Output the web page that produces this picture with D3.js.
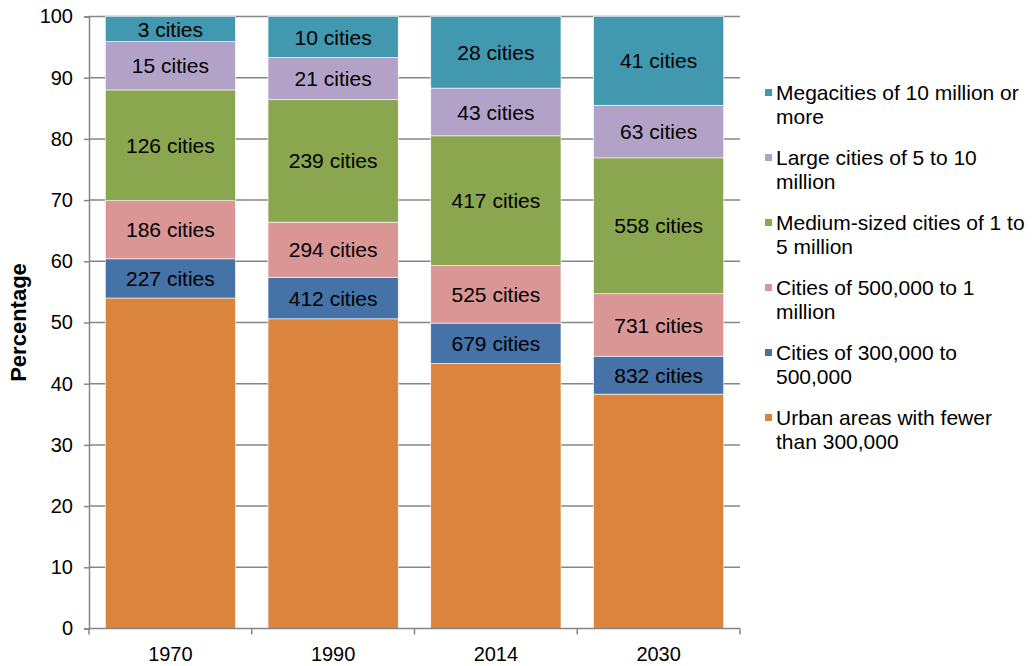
<!DOCTYPE html>
<html>
<head>
<meta charset="utf-8">
<script src="https://cdn.jsdelivr.net/npm/d3@7"></script>
<style>
  body { margin: 0; background: #fff; }
  text { font-family: "Liberation Sans", Arial, sans-serif; fill: #000; }
</style>
</head>
<body>
<div id="chart"></div>
<script>
// categories
const years = ["1970", "1990", "2014", "2030"];

// series, bottom to top (percent of urban population)
const seriesKeys = ["under300k", "k300to500k", "k500kto1m", "medium", "large", "mega"];
const under300k = [54.0, 50.6, 43.3, 38.3];
const k300to500k = [6.4, 6.8, 6.6, 6.2];
const k500kto1m = [9.5, 9.0, 9.4, 10.2];
const medium = [18.1, 20.0, 21.2, 22.2];
const large = [7.9, 6.9, 7.8, 8.6];
const mega = [4.1, 6.7, 11.7, 14.5];

// number of cities shown in each segment (null = no label)
const citiesUnder300k = [null, null, null, null];
const cities300to500k = [227, 412, 679, 832];
const cities500kto1m = [186, 294, 525, 731];
const citiesMedium = [126, 239, 417, 558];
const citiesLarge = [15, 21, 43, 63];
const citiesMega = [3, 10, 28, 41];

// legend labels, top to bottom, already wrapped
const legendLines = [
  ["Megacities of 10 million or", "more"],
  ["Large cities of 5 to 10", "million"],
  ["Medium-sized cities of 1 to", "5 million"],
  ["Cities of 500,000 to 1", "million"],
  ["Cities of 300,000 to", "500,000"],
  ["Urban areas with fewer", "than 300,000"]
];
const legendKeys = ["mega", "large", "medium", "k500kto1m", "k300to500k", "under300k"];

const yTicks = [0, 10, 20, 30, 40, 50, 60, 70, 80, 90, 100];

const colors = {
  under300k: "#DB843D",
  k300to500k: "#4572A7",
  k500kto1m: "#D99694",
  medium: "#8AA64E",
  large: "#B3A2C7",
  mega: "#4198AF"
};

const values = { under300k, k300to500k, k500kto1m, medium, large, mega };
const counts = {
  under300k: citiesUnder300k, k300to500k: cities300to500k, k500kto1m: cities500kto1m,
  medium: citiesMedium, large: citiesLarge, mega: citiesMega
};

const svgWidth = 1032;
const svgHeight = 666;
const margin = { top: 16.5, right: 292, bottom: 37.5, left: 89 };
const width = svgWidth - margin.left - margin.right;
const height = svgHeight - margin.top - margin.bottom;

const svg = d3.select("#chart")
  .append("svg")
  .attr("width", svgWidth)
  .attr("height", svgHeight);

const chartGroup = svg.append("g")
  .attr("transform", `translate(${margin.left}, ${margin.top})`);

// table for d3.stack
const table = years.map((y, i) => {
  const row = { year: y };
  seriesKeys.forEach(k => { row[k] = values[k][i]; });
  return row;
});

const stacked = d3.stack().keys(seriesKeys)(table);

const xScale = d3.scaleBand()
  .domain(years)
  .range([0, width])
  .paddingInner(0.2)
  .paddingOuter(0.1);

const yScale = d3.scaleLinear()
  .domain([0, 100])
  .range([height, 0]);

// gridlines
chartGroup.append("g")
  .selectAll("line")
  .data(yTicks.filter(d => d > 0))
  .enter()
  .append("line")
  .attr("x1", 0)
  .attr("x2", width)
  .attr("y1", d => yScale(d))
  .attr("y2", d => yScale(d))
  .attr("stroke", "#868686")
  .attr("stroke-width", 1.5);

// bars
const layers = chartGroup.selectAll(".layer")
  .data(stacked)
  .enter()
  .append("g")
  .attr("fill", d => colors[d.key]);

layers.selectAll("rect")
  .data(d => d)
  .enter()
  .append("rect")
  .attr("x", d => xScale(d.data.year))
  .attr("width", xScale.bandwidth())
  .attr("y", d => yScale(d[1]))
  .attr("height", d => yScale(d[0]) - yScale(d[1]))
  .attr("stroke", "#ffffff")
  .attr("stroke-width", 0.6);

// segment labels
layers.each(function(layer) {
  d3.select(this).selectAll("text")
    .data(layer.map((d, i) => ({ seg: d, n: counts[layer.key][i] })).filter(d => d.n !== null))
    .enter()
    .append("text")
    .attr("x", d => xScale(d.seg.data.year) + xScale.bandwidth() / 2)
    .attr("y", d => (yScale(d.seg[0]) + yScale(d.seg[1])) / 2)
    .attr("dy", "0.36em")
    .attr("text-anchor", "middle")
    .style("font-size", "21px")
    .style("fill", "#000")
    .text(d => `${d.n} cities`);
});

// y axis
const leftAxis = d3.axisLeft(yScale)
  .tickValues(yTicks)
  .tickSize(5)
  .tickPadding(11);

const yAxis = chartGroup.append("g").call(leftAxis);
yAxis.select(".domain").attr("stroke", "#868686").attr("stroke-width", 1.5);
yAxis.selectAll(".tick line").attr("stroke", "#868686").attr("stroke-width", 1.5);
yAxis.selectAll(".tick text")
  .style("font-size", "20px")
  .style("font-family", "'Liberation Sans', Arial, sans-serif")
  .attr("fill", "#000");

// x axis: ticks at band boundaries
const xAxis = chartGroup.append("g")
  .attr("transform", `translate(0, ${height})`);
xAxis.append("line")
  .attr("x1", 0).attr("x2", width)
  .attr("stroke", "#868686").attr("stroke-width", 1.5);
const step = xScale.step();
xAxis.selectAll(".xtick")
  .data(d3.range(years.length + 1))
  .enter()
  .append("line")
  .attr("x1", i => i * step)
  .attr("x2", i => i * step)
  .attr("y1", 0).attr("y2", 6)
  .attr("stroke", "#868686").attr("stroke-width", 1.5);
xAxis.selectAll("text")
  .data(years)
  .enter()
  .append("text")
  .attr("x", d => xScale(d) + xScale.bandwidth() / 2)
  .attr("y", 32)
  .attr("text-anchor", "middle")
  .style("font-size", "20px")
  .text(d => d);

// y label
chartGroup.append("text")
  .attr("transform", `translate(${-margin.left + 26}, ${height / 2}) rotate(-90)`)
  .attr("text-anchor", "middle")
  .style("font-size", "22px")
  .style("font-weight", "bold")
  .text("Percentage");

// legend
const legend = svg.append("g").attr("transform", "translate(765, 92.5)");
const entries = legend.selectAll("g")
  .data(legendKeys)
  .enter()
  .append("g")
  .attr("transform", (d, i) => `translate(0, ${i * 65})`);

entries.append("rect")
  .attr("x", 0)
  .attr("y", -3.5)
  .attr("width", 7)
  .attr("height", 7)
  .attr("fill", d => colors[d]);

entries.append("text")
  .attr("x", 11)
  .attr("y", 0)
  .style("font-size", "21px")
  .selectAll("tspan")
  .data((d, i) => legendLines[i])
  .enter()
  .append("tspan")
  .attr("x", 11)
  .attr("dy", (d, j) => j === 0 ? "0.36em" : "24px")
  .text(d => d);
</script>
</body>
</html>
